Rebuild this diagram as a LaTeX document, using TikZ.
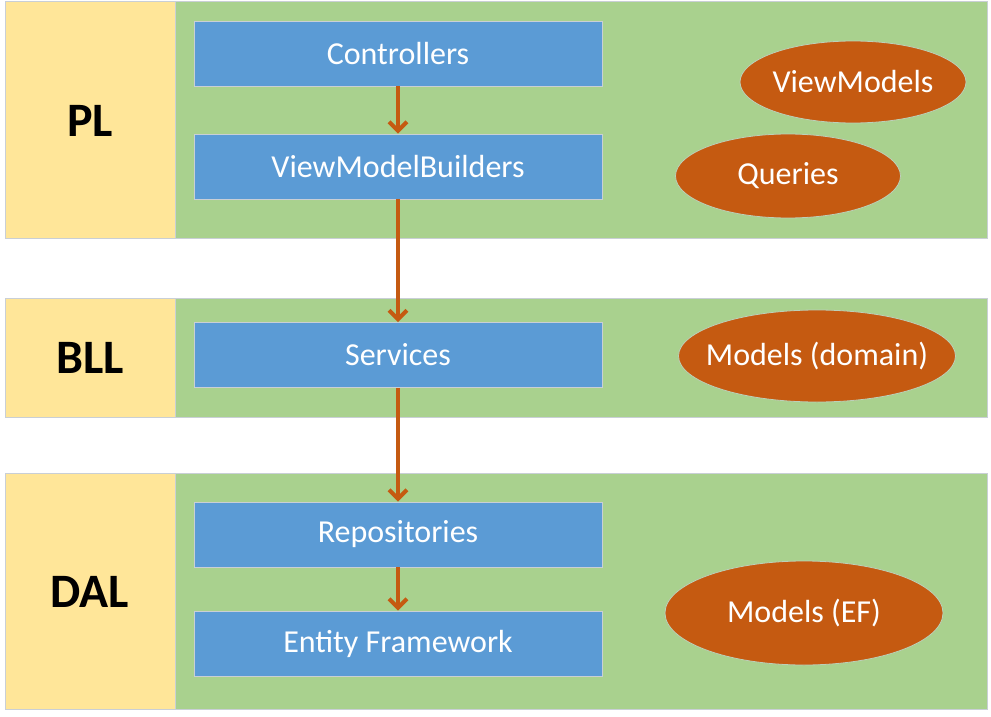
\documentclass[tikz,border=0pt]{standalone}
\usepackage{fontspec}
\setmainfont{Carlito}
\usetikzlibrary{arrows.meta,shapes.geometric}
\definecolor{bandyellow}{HTML}{FFE699}
\definecolor{bandgreen}{HTML}{A9D18E}
\definecolor{boxblue}{HTML}{5B9BD5}
\definecolor{ovalorange}{HTML}{C55A11}
\definecolor{edgegray}{HTML}{C9CFD6}
\tikzset{
  band/.style={fill=bandgreen, draw=edgegray, line width=1pt},
  tag/.style={fill=bandyellow, draw=edgegray, line width=1pt},
  layerlabel/.style={font=\fontsize{48}{54}\selectfont\bfseries, text=black},
  stepbox/.style={rectangle, fill=boxblue, draw=edgegray, line width=0.8pt,
    minimum width=408pt, minimum height=65pt, inner sep=0pt,
    text=white, font=\fontsize{32}{38}\selectfont},
  oval/.style={ellipse, fill=ovalorange, draw=edgegray!60!bandgreen, line width=0.8pt,
    inner sep=0pt},
  ovaltext/.style={text=white, font=\fontsize{32}{38}\selectfont},
  flow/.style={draw=ovalorange, line width=4pt,
    -{Straight Barb[length=9pt,width=18pt,line width=4pt]}}
}
\begin{document}
\begin{tikzpicture}[x=1pt,y=-1pt]
\useasboundingbox (0,0) rectangle (991,717);
\fill[white] (0,0) rectangle (991,717);
% bands
\draw[band] (5,2) rectangle (987,238);
\draw[tag] (5,2) rectangle (175,238);
\draw[band] (5,298) rectangle (987,417);
\draw[tag] (5,298) rectangle (175,417);
\draw[band] (5,473) rectangle (987,709);
\draw[tag] (5,473) rectangle (175,709);
% layer labels
\node[layerlabel] (pl) at (90,121) {PL};
\node[layerlabel] (bll) at (90,358) {BLL};
\node[layerlabel] (dal) at (90,592) {DAL};
% boxes
\node[stepbox] (ctrl) at (398,53.5) {Controllers};
\node[stepbox] (vmb) at (398,166.5) {ViewModelBuilders};
\node[stepbox] (svc) at (398,355) {Services};
\node[stepbox] (repo) at (398,534.5) {Repositories};
\node[stepbox] (ef) at (398,643.5) {Entity Framework};
% ovals
\node[oval, minimum width=226pt, minimum height=82pt,
  label={[ovaltext]center:ViewModels}] (vm) at (853,82) {};
\node[oval, minimum width=225pt, minimum height=84pt,
  label={[ovaltext]center:Queries}] (qr) at (788,176) {};
\node[oval, minimum width=277pt, minimum height=92pt,
  label={[ovaltext]center:Models (domain)}] (md) at (817,356) {};
\node[oval, minimum width=278pt, minimum height=104pt,
  label={[ovaltext]center:Models (EF)}] (mef) at (804,613) {};
% arrows
\draw[flow] (ctrl.south) -- (vmb.north);
\draw[flow] (vmb.south) -- (svc.north);
\draw[flow] (svc.south) -- (repo.north);
\draw[flow] (repo.south) -- (ef.north);
\end{tikzpicture}
\end{document}
